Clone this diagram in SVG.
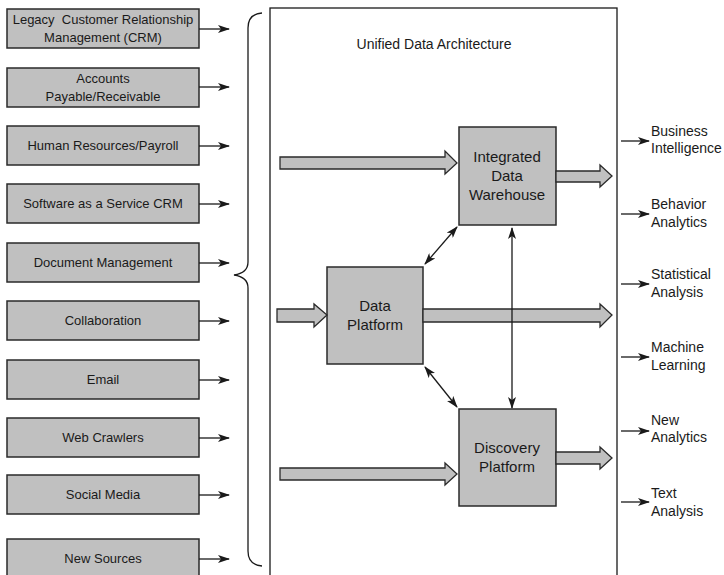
<svg xmlns="http://www.w3.org/2000/svg" width="724" height="575" viewBox="0 0 724 575">
  <defs>
    <style>
      text { font-family: "Liberation Sans", Arial, sans-serif; font-size: 14px; fill: #1a1a1a; }
      .c { text-anchor: middle; }
      .s { font-size: 13px; }
      .m { font-size: 15px; }
      .box { fill: #c0c0c0; stroke: #2a2a2a; stroke-width: 1.5; }
      .blk { fill: #c0c0c0; stroke: #2a2a2a; stroke-width: 1.3; stroke-linejoin: miter; }
      .ln { fill: none; stroke: #1a1a1a; stroke-width: 1.3; }
      .arr { marker-end: url(#head); }
      .dbl { marker-start: url(#headS); marker-end: url(#head); }
    </style>
    <marker id="head" viewBox="0 0 12 8" refX="11" refY="4" markerWidth="12" markerHeight="8" markerUnits="userSpaceOnUse" orient="auto">
      <path d="M0,0 L12,4 L0,8 L3,4 Z" fill="#1a1a1a"/>
    </marker>
    <marker id="headS" viewBox="0 0 12 8" refX="1" refY="4" markerWidth="12" markerHeight="8" markerUnits="userSpaceOnUse" orient="auto">
      <path d="M12,0 L0,4 L12,8 L9,4 Z" fill="#1a1a1a"/>
    </marker>
  </defs>

  <!-- data sources -->
  <g id="src-legacy-crm"><rect class="box" x="7" y="9" width="192" height="39"/><text class="c s" x="103" y="24">Legacy &#160;Customer Relationship</text><text class="c s" x="103" y="42">Management (CRM)</text></g>
  <g id="src-accounts"><rect class="box" x="7" y="68" width="192" height="39"/><text class="c s" x="103" y="83">Accounts</text><text class="c s" x="103" y="101">Payable/Receivable</text></g>
  <g id="src-hr"><rect class="box" x="7" y="126" width="192" height="39"/><text class="c s" x="103" y="150">Human Resources/Payroll</text></g>
  <g id="src-saas"><rect class="box" x="7" y="184" width="192" height="39"/><text class="c s" x="103" y="208">Software as a Service CRM</text></g>
  <g id="src-docs"><rect class="box" x="7" y="243" width="192" height="39"/><text class="c s" x="103" y="267">Document Management</text></g>
  <g id="src-collab"><rect class="box" x="7" y="301" width="192" height="39"/><text class="c s" x="103" y="325">Collaboration</text></g>
  <g id="src-email"><rect class="box" x="7" y="360" width="192" height="39"/><text class="c s" x="103" y="384">Email</text></g>
  <g id="src-crawlers"><rect class="box" x="7" y="418" width="192" height="39"/><text class="c s" x="103" y="442">Web Crawlers</text></g>
  <g id="src-social"><rect class="box" x="7" y="475" width="192" height="39"/><text class="c s" x="103" y="499">Social Media</text></g>
  <g id="src-new"><rect class="box" x="7" y="539" width="192" height="39"/><text class="c s" x="103" y="563">New Sources</text></g>

  <!-- architecture frame -->
  <g id="uda">
    <rect x="270" y="8" width="347" height="580" fill="none" stroke="#1a1a1a" stroke-width="1.3"/>
    <text class="c" x="434" y="49">Unified Data Architecture</text>
  </g>

  <g id="idw"><rect class="box" x="459" y="127" width="97" height="98"/><text class="c m" x="507" y="162">Integrated</text><text class="c m" x="507" y="181">Data</text><text class="c m" x="507" y="200">Warehouse</text></g>
  <g id="data-platform"><rect class="box" x="327" y="267" width="96" height="97"/><text class="c m" x="375" y="311">Data</text><text class="c m" x="375" y="330">Platform</text></g>
  <g id="discovery"><rect class="box" x="459" y="409" width="97" height="97"/><text class="c m" x="507" y="453">Discovery</text><text class="c m" x="507" y="472">Platform</text></g>

  <!-- outputs -->
  <g id="out-bi"><text x="651" y="136">Business</text><text x="651" y="153">Intelligence</text></g>
  <g id="out-behavior"><text x="651" y="209">Behavior</text><text x="651" y="227">Analytics</text></g>
  <g id="out-stats"><text x="651" y="279">Statistical</text><text x="651" y="297">Analysis</text></g>
  <g id="out-ml"><text x="651" y="352">Machine</text><text x="651" y="370">Learning</text></g>
  <g id="out-new"><text x="651" y="425">New</text><text x="651" y="442">Analytics</text></g>
  <g id="out-text"><text x="651" y="498">Text</text><text x="651" y="516">Analysis</text></g>

  <g id="connectors">
    <!-- source feeds -->
    <line class="ln arr" x1="199" y1="29" x2="229" y2="29"/>
    <line class="ln arr" x1="199" y1="87" x2="229" y2="87"/>
    <line class="ln arr" x1="199" y1="146" x2="229" y2="146"/>
    <line class="ln arr" x1="199" y1="204" x2="229" y2="204"/>
    <line class="ln arr" x1="199" y1="263" x2="229" y2="263"/>
    <line class="ln arr" x1="199" y1="321" x2="229" y2="321"/>
    <line class="ln arr" x1="199" y1="380" x2="229" y2="380"/>
    <line class="ln arr" x1="199" y1="438" x2="229" y2="438"/>
    <line class="ln arr" x1="199" y1="495" x2="229" y2="495"/>
    <line class="ln arr" x1="199" y1="559" x2="229" y2="559"/>

    <!-- brace -->
    <path class="ln" d="M262,13 Q248,14 248,28 L248,262 Q248,273 234,275 Q248,277 248,288 L248,551 Q248,565 262,566"/>

    <!-- block arrows -->
    <polygon class="blk" points="280,157 445,157 445,151 457,163 445,174 445,169 280,169"/>
    <polygon class="blk" points="556,171 600,171 600,165 612,176 600,187 600,182 556,182"/>
    <polygon class="blk" points="277,309 314,309 314,304 327,315 314,327 314,322 277,322"/>
    <polygon class="blk" points="423,309 600,309 600,304 612,315 600,327 600,322 423,322"/>
    <polygon class="blk" points="280,468 445,468 445,463 457,474 445,485 445,480 280,480"/>
    <polygon class="blk" points="556,452 600,452 600,447 612,458 600,469 600,464 556,464"/>

    <!-- exchanges between platforms -->
    <line class="ln dbl" x1="425" y1="264" x2="457" y2="227"/>
    <line class="ln dbl" x1="425" y1="367" x2="457" y2="407"/>
    <line class="ln dbl" x1="512" y1="228" x2="512" y2="408"/>

    <!-- analytics outputs -->
    <line class="ln arr" x1="621" y1="141" x2="649" y2="141"/>
    <line class="ln arr" x1="621" y1="214" x2="649" y2="214"/>
    <line class="ln arr" x1="621" y1="284" x2="649" y2="284"/>
    <line class="ln arr" x1="621" y1="357" x2="649" y2="357"/>
    <line class="ln arr" x1="621" y1="431" x2="649" y2="431"/>
    <line class="ln arr" x1="621" y1="502" x2="649" y2="502"/>
  </g>
</svg>
